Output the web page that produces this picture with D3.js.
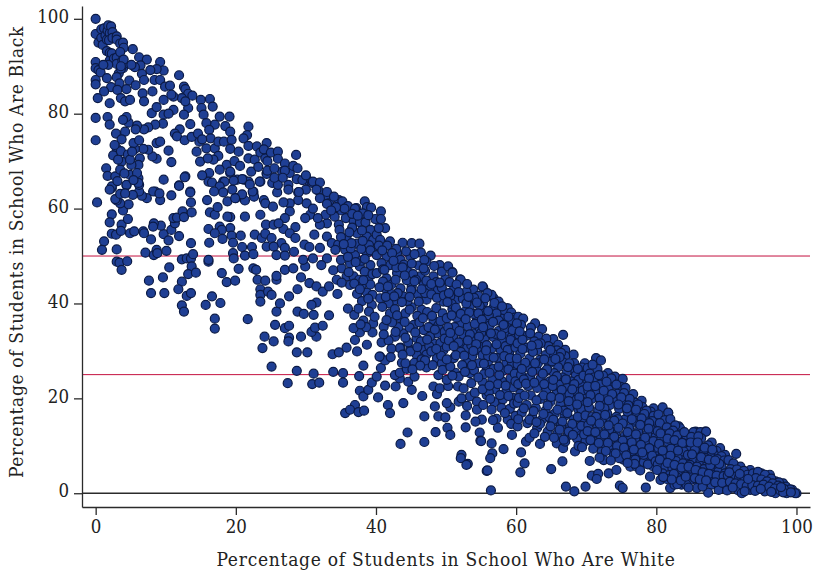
<!DOCTYPE html>
<html>
<head>
<meta charset="utf-8">
<script src="https://cdn.jsdelivr.net/npm/d3@7"></script>
<style>
  html, body { margin: 0; padding: 0; background: #fff; }
  svg { display: block; }
  text { font-family: "DejaVu Serif Condensed", "DejaVu Serif", serif; font-stretch: condensed; fill: #222; }
</style>
</head>
<body>
<div id="canvas"></div>
<script>
const xTicks = [0, 20, 40, 60, 80, 100];
const yTicks = [0, 20, 40, 60, 80, 100];
const refLines = [25, 50];
const xLabel = "Percentage of Students in School Who Are White";
const yLabel = "Percentage of Students in School Who Are Black";

// [percent white, percent black] in bands of percent white
const schools0to10 = [[0,100],[0,96.8],[0.4,95],[0.8,97.8],[0.8,96],[1,94.5],[1.2,98],[1.4,96.5],[1.6,93.2],[1.6,95.6],[1.7,97.5],[1.8,98.6],[2,97],[1.9,95.5],[2.2,98.4],[2.4,97.2],[2.4,96],[3,96.3],[3,95.6],[3.5,94.8],[3.9,95],[4,93.9],[2,92.8],[2,91.2],[2.3,92.7],[2.6,91.6],[3,91.8],[3,90.5],[3.5,93],[3.8,91.2],[3.9,89.6],[3.3,88.5],[3.6,89.5],[4,90.5],[5.3,93.6],[6.2,91.9],[7.3,91.4],[9.2,90.9],[9.7,89.1],[8.7,89.4],[7.8,89.2],[6.4,90.2],[5.6,89.8],[5.1,90.3],[6.6,88.4],[6.9,87.1],[8.4,87.1],[9.2,87.1],[9.9,85.7],[8,80.1],[8.7,81.4],[9.7,82.9],[9.7,79.8],[9.6,77.9],[8.5,77.7],[7.5,77.1],[6.9,76.7],[5.9,77.5],[5.7,76.7],[4.7,78.1],[4.4,79.3],[3.9,78.7],[1.7,79.3],[2,77.7],[0,79.1],[0,74.4],[2.9,75.8],[4.2,76.2],[3.7,74.6],[3,72.7],[2.5,71.2],[1.5,68.5],[1.7,66.9],[2.8,66.8],[0,90.9],[0,89.6],[0.4,89.2],[0.7,88.7],[0,87.1],[0,86.2],[1.6,87.5],[3,87.7],[1.8,90.3],[1.1,90.3],[3.4,86.4],[4.8,87],[2.2,85.6],[3.1,85],[4.4,85.2],[1.2,84.7],[0.3,83.3],[2,82.2],[3.6,83.3],[4.2,82.6],[4.9,82.9],[5.7,86],[6.7,84.3],[6.9,82.6],[8.1,84.7],[4,91.4],[3.6,90],[0.2,61.3],[2.3,58.8],[2,57.1],[2.3,54.7],[2.9,54.5],[3.7,56.6],[3.6,55.3],[4.6,57.8],[3.9,59.6],[4.7,60.9],[3.5,61.1],[3,61.7],[2.8,62],[3.5,63.1],[2.3,64.3],[4.4,64.9],[4.9,54.8],[5.5,55.2],[6.8,55.2],[6.9,54.8],[7.9,53.5],[9.7,54.6],[9.3,56.4],[8.3,56.9],[8.2,56.2],[9.2,61.8],[8.5,63.6],[8.2,63.6],[7.3,62.2],[6.6,62.7],[6.2,63.6],[6.2,65],[6.1,66.4],[9.7,66.1],[1.2,53.1],[0.9,51.3],[3,51.4],[3,48.8],[3.4,48.6],[4.5,48.9],[3.7,47.1],[7.1,50.7],[8.3,50.2],[8.7,51.3],[8.8,50.6],[9.6,45.5],[7.6,44.8],[7.9,42.2],[9.8,42.2],[8.7,70.5],[8.1,71],[7.5,72.4],[6.8,72.6],[8.7,73.8],[9.2,74.1],[5.6,72.6],[5.4,73.8],[6.3,70.6],[6.1,69.2],[5.1,69.2],[4.9,67.1],[3.7,69.9],[3.2,70.3],[3.5,68.2],[5.9,67.5],[6.1,65.4],[4.4,65],[2.3,64.7],[3.6,72.1],[4.6,71.4],[4.9,70.3],[2.7,73.4],[5.2,72],[6.2,74.4],[4.1,67.4],[5.4,66],[2,64],[3.1,65.8],[9.1,63.2],[5.3,62.9],[4.2,63.2]];

const schools10to25 = [[10.6,85.9],[11.9,88.1],[12.6,85.7],[12.8,85.2],[13.2,84.2],[13.8,83.8],[12.3,83.3],[15,82.9],[16.3,83.1],[16.7,81.5],[15.1,81.2],[15.4,79.8],[13.2,81.2],[12.8,82.6],[11.1,83.6],[10.8,84],[11.1,80.8],[10.4,80],[17.7,79.4],[19.1,79.4],[17,77.7],[18.5,77.4],[19.2,76.2],[15.8,78],[16.2,76.6],[16.4,74.8],[14.8,74.1],[13.5,77.8],[12.6,79.8],[12,76.7],[11.3,75.8],[11.6,75.2],[12.7,74.4],[13.7,75.1],[14.4,72],[14.9,69.9],[15.8,72.7],[17,72.7],[17.5,74.1],[18.3,74.1],[19.4,74.5],[19.2,72.6],[20.4,72],[17.5,71.1],[16.8,70.3],[18.7,69.2],[19.2,67.5],[17.7,68.2],[16.2,67.5],[16.1,65.7],[16.6,65.5],[18.2,65.7],[20.2,66.1],[21.1,66.1],[21.8,77.3],[21.6,75.5],[21.1,74.8],[21.8,73.2],[23,73.1],[21.8,70.6],[22.7,70.3],[23.5,71.8],[24.4,73.8],[24.2,70.6],[24.4,67.5],[23.5,65.7],[10.4,72.2],[10.8,69.8],[12.8,66.8],[11.9,64.9],[13.5,63.6],[22.5,63.6],[10.4,53.3],[10.8,55.5],[11.3,56.9],[11.1,58],[11.6,58.1],[12.4,59.4],[12.6,58.2],[13.7,59.2],[13.6,61.3],[13.5,63.4],[11.9,64.8],[10.8,62.8],[12.7,66.6],[10.1,51.1],[11.9,54.2],[13.6,52.7],[12.3,49.3],[13,49.5],[13.6,49.5],[13.9,50.4],[13.7,47.8],[13.2,46.2],[14.3,46.5],[10.5,47.6],[12.3,44.6],[11.8,43],[13,41.6],[13.6,42.2],[12.3,39.6],[12.6,38.3],[15.7,39.7],[16.6,41.5],[17.8,40.1],[17,36.8],[17,34.7],[21.7,36.7],[24.1,33],[23.8,30.6],[16.1,48.8],[16.1,49.2],[16.2,52.8],[16.1,55.7],[15.9,61.8],[16.3,59.2],[17,58.7],[17.4,60.3],[18.8,61.5],[20,62.2],[21.3,61.7],[20.9,63],[22.5,63.2],[22.6,62.5],[24,61.8],[24.2,61.1],[23.5,58.7],[21.3,58.3],[19.2,58.2],[18.8,58.3],[19.2,55.9],[17.7,56.2],[18,55.5],[17,54.8],[18.1,53.6],[19.4,54.3],[19.6,52.8],[20.7,54.3],[22.7,54.5],[23.7,53.8],[24.3,56.6],[24.2,54.7],[24.4,52],[20.9,51.9],[22.3,51.9],[21.3,50.1],[22.5,50.4],[19.6,50.6],[19.7,49.5],[20.4,47.3],[22.5,47.4],[22.9,47.1],[18,46.4],[18.7,44.5],[19.9,44.8],[23.1,45],[24.2,44.8],[23.5,43],[23.5,41.8],[23.5,40.4],[24.6,42.5],[24.4,67.3],[23.4,65.7],[21.8,65.7],[20.9,66.2],[19.7,65.9],[18.4,65.7],[17.7,64.7],[19.2,67.8],[22.4,63.6],[19.9,62.2],[24,72.5],[24.5,70],[24.5,68],[15.2,67],[16.9,63.6],[18.2,63.4],[19.5,64],[14.6,75.8],[15.2,74.6],[16,70.6],[19.8,70],[20.6,69],[22.2,67.8],[23.2,68.8],[22,65.1]];

const schools25to40 = [[25.1,41.8],[25.8,38.3],[26.3,40],[27.6,41.5],[25.8,45],[25.8,45.8],[27,47.1],[28.2,47.4],[29.9,47.8],[29.3,45.5],[28.8,43],[30.5,44.3],[31.5,43.6],[32.4,42.5],[33.3,43.6],[34.5,42],[31.5,40.2],[30.8,39.7],[31.1,37.6],[28.8,38.3],[29.7,37.8],[33.3,37.5],[36,38.9],[36.9,37.6],[38.2,36.4],[39.6,35.8],[39.5,33.9],[25.6,35.5],[27,34.8],[27.6,35.3],[25.4,32],[27.6,32.8],[27.5,32],[29.3,33],[31.5,33],[30.8,34],[31.3,34.9],[32.4,35.3],[28.7,29.7],[30.2,29.7],[33.8,29.3],[34.7,29.7],[35.8,30.7],[37.3,29.9],[37,32.3],[37.7,33.9],[38.7,31.3],[36.8,34.8],[38.4,61.5],[34.7,61.8],[38.7,60.3],[37.2,60.1],[39.9,57.8],[25.2,65.4],[27.5,65],[27.7,67.5],[26.6,67.8],[30.3,65.9],[30.9,65.4],[28.7,66.2],[25.9,63.4],[28.9,63.4],[31.8,63.8],[33,62.4],[32,62.2],[33.3,61.1],[30.1,61.1],[28.9,61.8],[27.7,61.1],[26.8,61.3],[25.3,60.4],[30.6,58.7],[29.9,58],[27.7,59.4],[27,58],[28.5,56.1],[26.8,55.7],[25.4,56.6],[26.1,56.9],[27.7,54.8],[28.5,53.8],[25.1,53.8],[26.5,52.7],[25.4,52],[27,51.7],[28.3,50.9],[25.8,50.2],[27,50.1],[31.2,54.5],[29.8,52.4],[30.5,51.9],[32,51.7],[31,49.5],[33,49.5],[32.2,48.1],[34.7,56.6],[33,56.9],[32,56.6],[34.1,58.3],[32.8,58.7],[35.1,59.6],[35.7,58],[36.8,57.3],[37.7,57.1],[38.5,57.1],[39.2,55.5],[37.3,54.8],[34.8,55.5],[33,54.1],[33.7,52.7],[34.6,52.4],[34.2,51.3],[35.8,53.8],[37.3,52.6],[38.7,54.1],[35.6,51.3],[37,50.2],[38.7,50.6],[39.2,48.1],[37.7,47.8],[36.3,48.5],[35.1,47.4],[35.8,45.7],[34.4,45],[36.8,45.7],[38.4,46.7],[36.3,43.9],[38,43.9],[37.3,42],[38.7,42.3],[39.4,39.7],[25.1,26.7],[28.7,25.8],[31.1,25.2],[33.9,25.6],[35.3,25.3],[37.6,24.7],[38.2,26.9],[27.4,23.2],[30.9,23],[31.9,23.3],[35.3,23.3],[37,18.6],[35.6,16.9],[36.3,17.6],[37.5,17.1],[38.3,17.4],[37.7,21.6],[38.2,20.4],[38.9,21.8],[39.4,23.3],[25,71.8],[26,72],[26,70.5],[27,69.5],[27,68],[28.2,69],[28.6,71.3],[28.8,68.5],[29.5,66],[30,67],[31,65.7],[32,65.5],[31.5,64],[33,63.5],[34,62.5],[35.2,61.5],[30,64],[29,63.5],[27.5,64],[26,65],[25.5,66.5],[26.7,66.5],[25.5,68.5],[33,61],[36,60.5],[37,60],[35.5,60],[36.6,56],[38,55.4],[39.6,53.4],[36.4,51.6],[33.9,47],[35,49.2],[39.7,50.9],[39,52.3],[37.9,49],[36.1,46.6],[38.9,45],[39.2,44],[37.6,45],[39.5,41.8],[38,40.5],[39,38.3],[37.5,38.9],[39.8,37.2],[38.6,35],[37.8,35.6],[29.6,49.2],[31.7,58],[35,54],[36.2,55],[38.1,59],[39.3,60.2],[36.6,58.9],[37.4,58.5],[38.9,58.6],[34.3,60.3],[33.6,59.6],[31,60],[36,49.8],[37.1,48.7],[38.4,49.4],[39.5,46.2],[38.2,44.9],[36.9,44.2],[35.1,44.4],[37.7,43],[38.9,41],[36.5,52.7],[35.4,52.5],[37.9,51.5],[39.2,51.2],[38.1,53.2]];

const schools40to50 = [[40.7,59.4],[40.7,57.8],[41.3,55.9],[42,53.1],[43.8,52.8],[45.1,52.7],[46.2,52.6],[46.4,50.7],[47.8,50.1],[47.2,48.8],[49.1,48.1],[40.1,54.5],[40.6,53.4],[40.1,50.2],[41.5,49.9],[43,50.6],[44.9,49.9],[43.5,49.2],[42,48.1],[40.8,48.5],[40.1,46.4],[41.5,45.3],[43,46.4],[44.4,47.1],[46.3,45.7],[48.2,45.7],[49.9,45.1],[45.1,43.6],[46.8,43.9],[48.7,42.9],[43.5,43.2],[41.5,42.9],[40.6,41.1],[42.5,40.4],[43.9,41.5],[45.1,39.2],[46.5,38.7],[47.2,40.8],[49.6,40.4],[43.5,36.9],[42,37.9],[45.4,35.5],[48.2,36.5],[46.8,34.4],[48.7,33.7],[43.9,33.7],[45.8,32.7],[48.2,31.6],[41.1,35.1],[40.8,31.8],[42.7,33],[43.5,30.7],[40.6,28.8],[44.9,30.2],[46.8,30.2],[40.1,24.6],[40.7,26.4],[41.3,28],[40.5,28.8],[40.3,20.2],[41.7,18.6],[42,16.9],[41.3,22.7],[42.8,22.5],[43.9,19],[45.1,21.8],[44.6,23.5],[45.5,24.6],[43.4,24.2],[42.7,24.9],[43.4,25.4],[44.4,26.2],[43.7,27.5],[44.2,27.4],[47.2,26.5],[46.6,20.5],[44.5,12.8],[43.5,10.4],[46.9,10.8],[46.9,16.2],[48.4,18.3],[48.9,16.2],[49.9,16],[48.5,12.9],[48.2,22.5],[48.7,20.9],[49.1,22.1],[48.9,24.9],[48.7,28.5],[47.2,29.2],[45.8,29.2],[44.9,29.9],[43.4,30.6],[41,44.6],[42.2,44],[42.9,47.6],[44,48.2],[45.3,46.2],[46.1,48],[47,46.9],[48.6,44.5],[49.4,43.3],[47.6,43.2],[46,41.9],[44.5,40.5],[43.1,42.2],[41.8,40],[42.7,38.8],[44.2,37.9],[45.9,37.4],[47.3,38.2],[48.6,39],[49.5,37.9],[48.9,35.4],[47.5,35],[46.2,36],[44.8,34.9],[43.2,35],[42.3,36],[47.7,33],[49.2,31.7],[47.6,31],[49.6,30.1],[46.4,32],[44.6,31.8],[41.8,32.2],[42.2,30.5],[45.5,27.5],[46.5,28.2],[48.1,27],[49.4,27.4],[49.5,26],[41,47.2],[40.4,52.2],[42.9,51.5],[44.3,51],[45.5,50.4],[46.9,49.2],[48.3,47.9],[49.4,46.7],[44.4,44.9],[45.7,45],[47.2,44.8],[42.2,42],[47,42.2],[45,42.8],[40.4,55.9],[41.6,52.2],[40.9,51.2],[42.3,50.6],[41.2,47.1],[42.5,49],[43.8,47.6],[45.1,48.4],[46.8,47.4],[40.5,43.4],[41.7,43.6],[42.8,45],[44.1,45.9],[45.5,44.7],[46.5,43],[47.9,44.1],[49.1,44.4],[40.9,39.3],[41.4,41.4],[42.6,41.5],[43.7,40.3],[44.8,41.4],[46.1,40.4],[47.9,41.9],[48.7,41.2],[49.7,41.7],[43,37.5],[44.8,38.7],[46.7,36.9],[48,37.4],[49.2,36.3],[41.5,36.5],[44.1,36.1],[45.6,33.9],[47.3,32.4],[49.8,34],[48.4,34.5],[42.8,34],[44.2,32.8],[41.1,33.5],[47,28],[47.9,29.9],[49.3,29],[46.3,26.9],[45.2,26.1],[49.8,32.6],[48.6,30.4],[45.9,30.8],[43.8,29.2],[42.1,28.7]];

const schools50to60 = [[50.3,47.8],[50.9,46.6],[52,45.1],[55.3,43.4],[53.9,42.9],[52.9,42.5],[51.1,42.9],[50.9,46.5],[52.1,45],[55.2,43.6],[56.8,41.1],[56.5,41.8],[58.8,39],[51.5,40.8],[53.4,39.4],[55.3,40.1],[50.1,36.9],[52,35.8],[54.4,36.5],[51,33],[53.9,33.7],[50.1,30.9],[52.5,31.3],[54.8,30.9],[55.8,34.4],[53,30.6],[54.4,30.2],[50.6,18.1],[50.1,19],[51.8,19.3],[53.4,20.4],[52.2,20],[50.3,22.6],[51.7,22.5],[50.1,23.9],[51.3,25.4],[53.4,25.3],[53.6,23.2],[51.8,24.6],[55.2,23.5],[54.4,19.3],[54.4,17.6],[55.1,15.5],[54.2,15.1],[55.8,20.7],[55.3,18.6],[55.8,26],[50.6,26.7],[51.1,28.5],[50.2,13.8],[50.6,12.3],[52.8,16.4],[52.8,13.9],[54.8,12.8],[54.9,11.1],[52.2,8.1],[52.1,7.4],[53.1,6.2],[52.9,6],[55.8,4.7],[56.4,0.6],[55.9,4.8],[56.6,8.4],[56.3,7.4],[58.2,9.3],[55,11],[56.5,10.5],[59.4,12.3],[50.5,44.5],[51.5,44],[53,44.1],[54.6,41.6],[55.9,42.2],[57.5,40.4],[58.2,38.2],[59.3,38.1],[59.8,37],[50.6,41.5],[52.4,41],[54,41.2],[55.4,38.5],[56.7,39],[57.9,36.8],[59.1,35.7],[50.9,38.8],[52.6,38.2],[53.9,37.8],[55.8,36.9],[57.2,37.9],[58.7,36],[59.9,35],[51.5,37],[53.1,35.2],[54.8,34.9],[56.2,35.3],[57.5,34.2],[59,33.4],[51.2,35],[52.4,33.5],[54.1,32.3],[55.5,32.5],[56.8,32.9],[58,32.1],[59.4,31.6],[50.4,32.2],[52.1,29.8],[53.7,28.8],[55.2,29.1],[56.5,30.5],[57.8,30.2],[59,29.5],[51.4,29.1],[53,27.5],[54.7,27.4],[56,27.8],[57.3,28.5],[58.6,27.6],[59.8,28.1],[52.3,27],[54,25.9],[55.4,25.1],[56.8,26.2],[58.1,25.8],[59.5,26.5],[56.6,23.9],[58,23.6],[59.2,24.2],[57,21.9],[58.6,21.5],[59.6,22.3],[56.9,19.2],[58.1,19.8],[59.5,20.1],[56.5,17.6],[57.9,18],[59.1,17.8],[57.2,15.7],[58.8,15.5],[59.9,16.3],[57.4,13.8],[59.3,14.6],[54.1,21.2],[56.1,21.3],[55.2,21.9],[56.7,15.4],[52.5,22.1],[53,18.4],[50.8,39.9],[52.9,40],[54.8,39.5],[56.1,37.5],[58.4,34.8],[57,33.6],[59.4,33],[50.3,35],[53.6,31.2],[51.8,31.8],[55,33.8],[58.5,31],[56,28.9],[50.9,24.8],[57.6,24.9],[55.4,27.3],[50.4,42.2],[51.8,42.4],[53.2,41.4],[54.4,40.2],[55.6,41.1],[56.9,40.1],[58,39.4],[59.4,36.5],[50.2,40.3],[51.4,39.1],[52.1,37.8],[53.3,38.1],[54.6,37.9],[56,38.4],[57.5,36.4],[58.9,37.2],[50.8,37.5],[52.8,36.7],[54.1,35.7],[55.1,36.6],[56.7,36.1],[58.2,35.5],[59.5,34.4],[50.6,33.8],[51.9,34.2],[53.4,33.5],[54.7,33],[56.4,33.7],[57.9,33.3],[59.2,32.3],[51.1,31],[53.1,32.2],[54.3,31.4],[55.8,31.2],[57.2,31.4],[58.8,30.2],[59.9,30.7],[52.6,29],[53.9,30],[55.7,30.1],[56.8,28.6],[58.3,28.9],[59.4,27.4],[50.1,28.2],[52.7,25.6],[54.6,24.4],[56.2,25.4],[57.5,26.7],[58.9,26.1],[59.8,25.2],[57.4,23],[58.5,22.7],[59.9,23.6],[56.2,22.7],[57.7,20.7],[58.9,20.5],[59.7,18.9],[58.4,16.9],[56.3,19.9],[53.7,27],[59.1,28.5],[55.3,35]];

const schools60to70 = [[60.3,37.2],[62.7,35.8],[63.7,34.6],[65.3,32.5],[66.7,33.4],[66,31.3],[67,30.2],[68.2,29.2],[69.8,27.4],[61,36.8],[60.7,35.5],[62.1,34.9],[61.5,33.2],[63.2,33],[64.3,32.6],[60.4,33.4],[62.6,32],[64.6,31],[65.8,30.1],[67,28.9],[68.3,27.4],[69.4,26.5],[60.2,31.6],[61.5,30.7],[63,30.1],[64.2,29.1],[65.4,29.2],[66.7,27.6],[67.9,26.2],[69.1,25],[60.6,29.4],[61.9,28.4],[63.4,28.1],[64.7,27.3],[66,26.6],[67.2,25.5],[68.5,24.8],[69.8,24.1],[60.2,27.2],[61.6,26.5],[62.9,26.1],[64.1,25.6],[65.4,25.3],[66.6,24.4],[67.8,23.6],[69.2,22.7],[60.7,25],[62,24.6],[63.5,24.2],[64.8,23.6],[66.1,22.9],[67.3,22.2],[68.6,21.4],[69.9,20.9],[60.3,23],[61.7,22.6],[63,22.2],[64.3,21.6],[65.7,20.9],[66.9,20.4],[68.2,19.7],[69.5,19.2],[60.6,21],[62.1,20.6],[63.5,19.9],[64.9,19.3],[66.3,18.6],[67.6,18],[68.9,17.6],[60.2,19.1],[61.5,18.6],[62.8,18],[64.2,17.4],[65.5,16.8],[66.9,16.3],[68.2,15.5],[69.6,15.1],[60.8,17],[62.3,16.1],[63.7,15.5],[65.1,14.9],[66.4,14.3],[67.7,13.8],[69.1,13.2],[61.6,14.8],[63,13.8],[64.5,13],[65.9,12.6],[67.3,12.1],[68.7,11.5],[69.9,11],[60.6,4.4],[61.2,6.3],[65,5.1],[66.6,6.7],[60.7,8.6],[68.4,8.8],[63.4,10.4],[61.4,10.9],[61.9,11.7],[60.2,14.1],[65.8,10.5],[66.7,9.5],[67.1,1.4],[68.3,0.4],[69.9,1.4],[60.1,35.8],[63.5,31.6],[65.1,27.8],[66.4,29.6],[68.8,26.2],[62.4,29.8],[61.1,24],[63.9,20.6],[66.8,17.4],[68.5,13.7],[64.7,16.1],[62.6,12.6],[69.3,17.7],[67.6,20.9],[65.2,22.6],[63.1,27.4],[60.9,32.4],[69.7,12.4],[67,10.9],[68.9,10],[60.5,34.1],[62,33.7],[63.1,31.4],[64.9,30.2],[66.2,28.7],[67.6,27.4],[60.9,30.4],[62.2,31.1],[64,28.2],[65.6,28.3],[67.4,26.6],[68.9,23.9],[69.6,24.8],[60.1,28.4],[61.3,27.5],[62.7,27.4],[64.4,26.1],[65.8,24.7],[67.1,24],[68.3,23],[69.5,21.7],[60.8,26.2],[62.3,25.6],[63.8,25.2],[65.3,23.9],[66.5,21.8],[68,21.9],[69,20.2],[61.4,23.1],[62.6,23.3],[64,23],[65,20.3],[66.2,20.1],[67.5,19.4],[68.7,18.7],[60.4,20.1],[61.2,20.6],[62.9,19.6],[64.5,18.5],[65.9,17.6],[67.3,16.9],[68.8,16.1],[69.9,16.4],[61.1,17.9],[62.5,17.3],[63.9,16.7],[65.3,15.5],[66.6,15.1],[68,14.6],[69.3,14.2],[60.3,15.6],[61.9,15.5],[63.4,14.6],[64.9,14.1],[66.2,13.4],[67.5,13],[68.1,12.3],[62.9,15],[64.1,11.9],[65.4,11.7],[66.8,11.3],[69.4,9.7]];

const schools70to80 = [[71.4,28.5],[72.1,28],[70.2,26.4],[73.1,25.3],[74.1,24.6],[75.2,24.1],[75.6,20.5],[76.7,20.9],[77.9,19.5],[79.6,17.9],[70.5,25.2],[71.6,26.2],[72.4,24.8],[73.8,23.1],[74.9,22.4],[70.7,23.4],[72,22.9],[73.2,21.9],[74.4,21],[75.6,22.2],[76.9,19.1],[78,18.2],[79.2,17.2],[70.3,21.7],[71.5,21.2],[72.8,20.4],[74,19.8],[75.3,19],[76.5,18],[77.7,17.1],[79,16.1],[70.8,19.9],[72.1,19.2],[73.4,18.6],[74.7,17.8],[76,16.9],[77.2,16.2],[78.4,15.6],[79.7,14.9],[70.4,18.1],[71.7,17.4],[73,16.8],[74.3,16.1],[75.5,15.5],[76.8,14.9],[78,14.2],[79.3,13.4],[70.9,16.2],[72.2,15.6],[73.5,15.1],[74.8,14.4],[76.1,13.7],[77.4,13],[78.7,12.4],[79.9,11.9],[70.3,14.4],[71.6,13.9],[72.9,13.2],[74.2,12.7],[75.5,12.1],[76.7,11.4],[78,10.9],[79.3,10.2],[70.8,12.5],[72.1,12],[73.4,11.4],[74.7,10.8],[76,10.1],[77.3,9.6],[78.6,9],[79.8,8.5],[71.2,10.8],[72.5,10.1],[73.8,9.6],[75.1,9],[76.4,8.4],[77.7,7.9],[79,7.3],[72.5,7],[73.9,8.4],[76.3,5.6],[77.2,5.6],[79.1,3.5],[79.6,5.6],[70.5,6.8],[70.8,3.7],[71.7,4.1],[71.5,3],[73.2,4.2],[74.3,4.9],[74.8,1.6],[75.2,1.1],[78.5,1.2],[75.3,7.1],[78.2,6.6],[77.7,4.8],[76.5,7],[74.7,7.4],[71,9.4],[72.2,8.7],[70.9,27.1],[73.6,24.2],[71.1,24.4],[75.9,17.2],[73.3,13.5],[78.5,11.1],[77,11.3],[74.5,15.6],[72.6,17.9],[75.7,10.6],[79.5,9.3],[78.2,8.1],[76,12.2],[71.9,20.1],[77,15.3],[70.4,24.2],[71.8,24.9],[72.9,23.5],[74.3,22.9],[75.4,21.1],[76.2,19.9],[77.4,18.7],[78.6,17.4],[79.6,16.3],[70.2,22.5],[71.3,22.6],[72.5,21.6],[73.7,20.9],[75,20.2],[76,18.5],[77.1,17.6],[78.3,16.7],[79.4,15.2],[70.6,20.7],[71.9,18.4],[73.2,19.6],[74.6,18.7],[75.8,17.9],[77.9,15.8],[79,14.8],[70.2,19.2],[71.4,16.1],[72.7,16.5],[74,15.3],[75.2,14.7],[76.5,15.6],[77.7,14.4],[78.9,13.6],[70.7,15.3],[71.9,14.7],[73.2,14.3],[74.6,13.8],[75.9,12.9],[77.1,12.4],[78.4,11.7],[79.6,11],[70.2,13.1],[71.3,12.9],[72.6,12.4],[74,11.9],[75.2,11.1],[76.5,10.7],[77.8,10.2],[79,9.5],[70.6,11.2],[71.8,10.6],[73.1,10.6],[74.4,9.9],[75.4,9.6],[76.8,9.2],[78,8.6],[79.4,7.9],[72.8,8.9],[74.2,8.4],[75.7,8],[77,7.1],[78.8,6.1],[79.9,6.7],[76.9,6.2],[75.9,6.4],[73.5,6.9],[71.9,7.5]];

const schools80to90 = [[80.9,18.1],[81.7,16.9],[83.2,14.1],[84.6,12.3],[85.6,13],[87,13],[81.7,17],[83.4,13.7],[85.3,12.9],[86.3,12.9],[87.1,13],[87.9,10.7],[89.1,9.5],[89.8,8.1],[80.3,16.6],[81.2,15.4],[82,15.6],[82.7,14.3],[80.5,14.8],[81.5,13.9],[82.4,13.2],[83.4,12.4],[84.3,11.9],[85.4,11.5],[86.4,11.6],[87.4,10.1],[88.6,8.9],[80.2,13.1],[81.2,12.4],[82.2,11.8],[83.2,11],[84.2,10.4],[85.2,10.2],[86.2,10],[87.2,9],[88.2,8.3],[89.3,7.8],[80.7,11.3],[81.7,10.7],[82.7,10],[83.7,9.6],[84.7,9],[85.7,8.8],[86.7,8.2],[87.7,7.7],[88.7,7.2],[89.7,6.9],[80.3,9.6],[81.3,9],[82.3,8.5],[83.3,8],[84.3,7.7],[85.3,7.4],[86.3,6.9],[87.3,6.3],[88.3,6],[89.3,5.7],[80.8,7.8],[81.8,7.2],[82.8,6.8],[83.8,6.3],[84.8,6],[85.8,5.6],[86.8,5.1],[87.8,4.8],[88.8,4.5],[89.8,4.2],[80.2,6.1],[81.3,5.6],[82.3,5.2],[83.3,4.8],[84.3,4.4],[85.3,4.1],[86.3,3.8],[87.3,3.4],[88.3,3.1],[89.3,2.9],[80.9,4.2],[81.9,3.8],[82.9,3.4],[83.9,3],[84.9,2.8],[85.9,2.5],[86.9,2.1],[87.9,1.8],[88.9,1.7],[89.9,1.5],[80.6,2.8],[81.97,1.1],[82.6,1.8],[83.6,1.8],[84.3,1.8],[85.8,1.1],[87.4,0.1],[88.9,0.7],[80.1,4.9],[81.5,3],[83,1.9],[84.6,1.2],[85.1,3.7],[86.6,1.4],[88,3.9],[89,6.2],[87,7.4],[85.5,9.2],[83.9,8.8],[82.1,9.4],[81,8.2],[84.9,5.2],[86,4.6],[87.7,5.9],[82.5,4.1],[80.6,12.6],[81.9,12.6],[83,12.2],[84,12.9],[85,11.9],[86,12],[80.4,10.4],[81.6,11.5],[82.6,11.2],[83.7,10.6],[84.9,10.7],[85.9,10.7],[86.9,9.6],[88,9.2],[80.9,9],[82,7.9],[83.1,9],[84.5,8.1],[85.1,8.2],[86.4,7.6],[87.5,7.1],[88.4,6.9],[80.5,7.1],[81.6,6.4],[82.6,6],[83.6,5.4],[84.6,5.6],[85.6,4.9],[86.6,4.4],[87.5,4.1],[88.6,3.7],[89.6,3.6],[81,3.4],[82.2,2.9],[83.5,2.7],[84.2,3.5],[85.5,3.2],[86.2,2.9],[87.1,2.7],[88.4,2.3],[89.4,2.2]];

const schools90to100 = [[100,0],[99.4,0.7],[98.1,2.1],[97,2.5],[96.2,3.9],[95,4.2],[93.4,4.9],[92,5.6],[91.4,8.3],[90.1,0.6],[91.7,0.6],[92.2,0],[93.4,0.7],[95.5,0.4],[97,0],[98.6,0],[99.8,0],[90.3,7],[91,6.3],[90.6,5.1],[91.5,5],[92.5,4.7],[93,3.9],[93.8,4.2],[94.5,4.5],[95.5,3.9],[96.4,3.1],[97.5,2.3],[98.5,1.4],[99.1,0.8],[90.2,3.8],[91,3.5],[91.8,3.3],[92.6,2.9],[93.4,2.6],[94.2,3.2],[95,2.9],[95.8,2.5],[96.6,2.1],[97.4,1.6],[98.2,0.9],[90.5,2.4],[91.3,2.1],[92.1,1.9],[92.9,1.5],[93.7,1.7],[94.5,1.6],[95.3,1.8],[96.1,1.4],[96.9,1],[97.7,0.6],[90.9,1.2],[92.6,0.4],[94.1,0.5],[94.9,0.9],[96.4,0.3],[98.1,0.2],[99.2,0.2],[90.4,4.4],[91.9,4.1],[93.1,3],[97.8,1.3]];

const schools = [].concat(schools0to10, schools10to25, schools25to40, schools40to50,
    schools50to60, schools60to70, schools70to80, schools80to90, schools90to100);

const width = 813,
    height = 574;

const margin = { top: 6, right: 3, bottom: 67, left: 82 };
const graphWidth = width - margin.left - margin.right;
const graphHeight = height - margin.top - margin.bottom;

const svg = d3.select("#canvas").append("svg")
    .attr("width", width)
    .attr("height", height);

const x = d3.scaleLinear().domain([-1.95, 101.93]).range([0, graphWidth]);
const y = d3.scaleLinear().domain([-2.9, 102.7]).range([graphHeight, 0]);

const graph = svg.append("g")
    .attr("transform", `translate(${margin.left},${margin.top})`);

// reference lines
graph.selectAll(".ref")
    .data(refLines)
    .enter()
    .append("line")
    .attr("x1", 0)
    .attr("x2", graphWidth)
    .attr("y1", d => y(d))
    .attr("y2", d => y(d))
    .attr("stroke", "#c4103f")
    .attr("stroke-width", 1);

graph.append("line")
    .attr("x1", 0)
    .attr("x2", graphWidth)
    .attr("y1", y(0))
    .attr("y2", y(0))
    .attr("stroke", "#2b2b2b")
    .attr("stroke-width", 1.3);

graph.selectAll("circle")
    .data(schools)
    .enter()
    .append("circle")
    .attr("cx", d => x(d[0]))
    .attr("cy", d => y(d[1]))
    .attr("r", 4.5)
    .attr("fill", "#1f3f94")
    .attr("stroke", "#0b1a45")
    .attr("stroke-width", 1.2);

const xAxis = d3.axisBottom(x).tickValues(xTicks).tickSize(8).tickPadding(5).tickSizeOuter(0);
const yAxis = d3.axisLeft(y).tickValues(yTicks).tickSize(8).tickPadding(5).tickSizeOuter(0);

const xAxisGroup = graph.append("g")
    .attr("transform", `translate(0,${graphHeight})`)
    .call(xAxis);

const yAxisGroup = graph.append("g").call(yAxis);

[xAxisGroup, yAxisGroup].forEach(g => {
    g.selectAll("path, line").attr("stroke", "#2b2b2b").attr("stroke-width", 1.3);
    g.selectAll("text").style("font-size", "18.5px").attr("fill", "#222");
});
yAxisGroup.selectAll("text").attr("dy", "0.2em");

svg.append("text")
    .text(xLabel)
    .attr("x", 446)
    .attr("y", 566)
    .attr("text-anchor", "middle")
    .style("font-size", "19px")
    .style("letter-spacing", "0.74px");

svg.append("text")
    .text(yLabel)
    .attr("transform", "translate(23,252) rotate(-90)")
    .attr("text-anchor", "middle")
    .style("font-size", "19px")
    .style("letter-spacing", "0.65px");
</script>
</body>
</html>
